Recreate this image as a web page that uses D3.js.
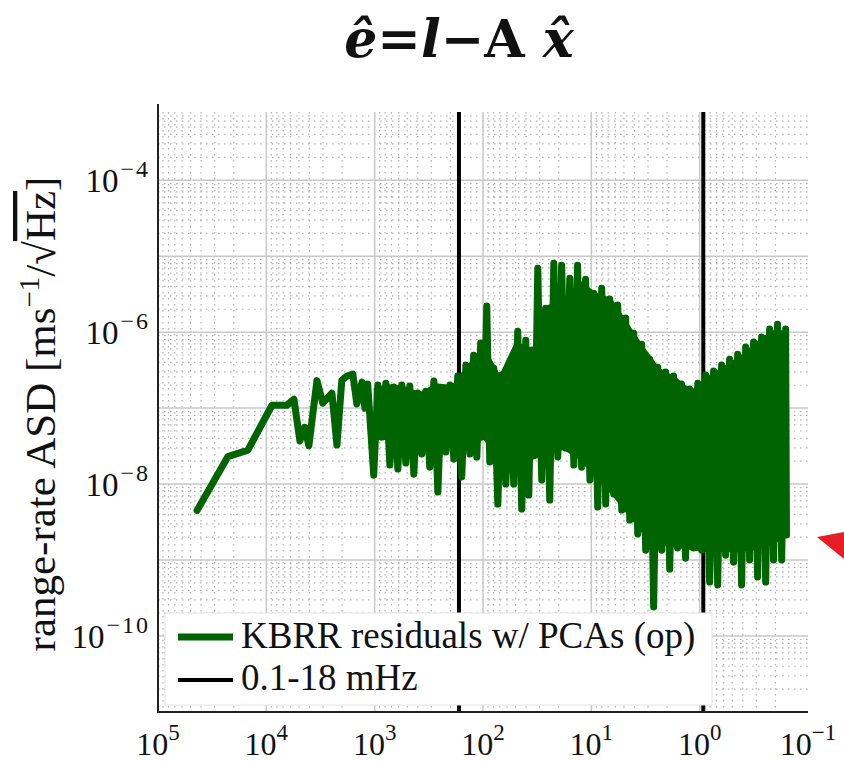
<!DOCTYPE html>
<html>
<head>
<meta charset="utf-8">
<script src="https://cdn.jsdelivr.net/npm/d3@7"></script>
<style>
  body { margin: 0; background: #fff; }
  text { font-family: "Liberation Serif", "DejaVu Serif", serif; fill: #111; }
</style>
</head>
<body>
<svg id="chart" width="844" height="761"></svg>
<script>
// period in minutes (x) and range-rate ASD (y)
var periodMin = [43600, 22600, 14800, 8870, 6460, 5560, 4900, 4410, 4050, 3410, 3010, 2480, 2230, 2010, 1800, 1590, 1460, 1310, 1230, 1160,
  1020, 934, 858, 788, 724, 665, 611, 561, 516, 474, 435, 400, 367, 337, 310, 284, 261, 240, 220, 202, 186, 171, 157, 144, 132, 122, 114, 105,
  98.3, 92.3, 86.6, 79.5, 73.0, 67.1, 61.6, 56.6, 52.0, 47.8, 43.9, 40.3, 37.8, 35.5, 33.3, 31.2, 28.7, 26.4, 24.2, 22.2, 20.4, 18.8, 17.2,
  15.8, 14.5, 13.4, 12.3, 11.3, 10.3, 9.50, 8.73, 8.02, 7.37, 6.77, 6.21, 5.71, 5.24, 4.82, 4.42, 4.06, 3.73, 3.43, 3.15, 2.89, 2.66, 2.44,
  2.24, 2.06, 1.89, 1.74, 1.60, 1.47, 1.35, 1.24, 1.14, 1.04, 0.958, 0.880, 0.809, 0.743, 0.682, 0.627, 0.576, 0.529, 0.486, 0.446, 0.410,
  0.376, 0.346, 0.318, 0.292, 0.268, 0.246, 0.226, 0.208, 0.191, 0.175, 0.161, 0.158]
var asd = [4.5e-9, 2.3e-8, 2.8e-8, 1.09e-7, 1.09e-7, 1.31e-7, 3.7e-8, 5.6e-8, 3.2e-8, 2.3e-7, 1.16e-7, 1.57e-7, 3.26e-8, 2.33e-7, 2.64e-7, 2.80e-7, 1.13e-7, 2.20e-7, 1.0e-7, 2.07e-7,
  1.31e-8, 2.01e-7, 4.15e-8, 2.13e-7, 1.78e-8, 1.89e-7, 1.58e-8, 2.01e-7, 1.89e-8, 1.95e-7, 1.35e-8, 1.58e-7, 2.48e-8, 1.67e-7, 1.67e-8, 2.27e-7,
  7.85e-9, 1.83e-7, 2.64e-8, 2.01e-7, 2.13e-8, 2.64e-7, 1.24e-8, 3.68e-7, 2.48e-8, 4.98e-7, 2.27e-8, 7.17e-7,
  4.55e-8, 2.20e-6, 1.95e-8, 3.36e-7, 5.46e-9, 2.72e-7, 1.0e-8, 2.41e-7, 1.0e-8, 1.03e-6, 4.69e-9, 7.85e-7, 7.17e-9, 5.80e-7, 2.41e-8,
  6.95e-6, 1.13e-8, 2.07e-6, 6.16e-9, 8.09e-6, 2.27e-8, 7.61e-6, 2.98e-8, 5.13e-6, 1.78e-8, 7.61e-6, 1.67e-8, 4.98e-6, 1.13e-8, 3.26e-6,
  4.98e-9, 3.79e-6, 5.46e-9, 2.72e-6, 7.39e-9, 2.27e-6, 4.55e-9, 1.53e-6, 3.36e-9, 9.70e-7, 2.20e-9, 6.95e-7, 1.35e-9, 4.41e-7, 2.41e-10,
  3.46e-7, 1.35e-9, 2.98e-7, 7.61e-10, 2.64e-7, 1.44e-9, 2.07e-7, 1.06e-9, 1.78e-7, 1.44e-9, 2.13e-7, 1.35e-9, 2.72e-7, 5.13e-10, 3.07e-7,
  4.69e-10, 3.68e-7, 1.16e-9, 4.41e-7, 9.41e-10, 5.13e-7, 4.69e-10, 6.35e-7, 1.0e-9, 7.39e-7, 5.98e-10, 8.60e-7, 5.13e-10, 1.10e-6, 1.0e-9,
  1.27e-6, 1.0e-9, 1.10e-6, 2.13e-9]

// where the trace oscillates too densely to separate: its solid core (upper / lower edge)
var bandPeriod = [1020, 755, 538, 383, 273, 194, 138, 98.3, 70.0, 49.8, 35.5, 25.3, 18.0, 12.8, 9.11, 6.48, 4.62, 3.29, 2.34, 1.66, 1.19,
  0.844, 0.601, 0.428, 0.304, 0.217, 0.161]
var bandHigh = [1.83e-7, 2.07e-7, 1.95e-7, 1.62e-7, 2.13e-7, 2.01e-7, 3.79e-7, 6.75e-7, 2.80e-7, 7.85e-7, 5.80e-7, 2.27e-6, 2.64e-6, 4.83e-6,
  3.36e-6, 2.80e-6, 1.35e-6, 6.54e-7, 3.36e-7, 2.56e-7, 1.73e-7, 2.64e-7, 3.57e-7, 4.83e-7, 7.39e-7, 1.06e-6, 1.06e-6]
var bandLow = [3.79e-8, 3.79e-8, 3.57e-8, 3.79e-8, 3.79e-8, 3.26e-8, 3.26e-8, 3.79e-8, 1.95e-8, 1.62e-8, 2.07e-8, 2.41e-8, 2.80e-8, 2.07e-8,
  1.20e-8, 7.17e-9, 3.91e-9, 2.13e-9, 1.58e-9, 1.44e-9, 1.35e-9, 1.27e-9, 1.27e-9, 1.27e-9, 1.35e-9, 1.58e-9, 1.95e-9]

var bandMHz = [0.1, 18]
var xTickExp = [5, 4, 3, 2, 1, 0, -1]
var yTickExp = [-4, -6, -8, -10]
var legendLabels = ["KBRR residuals w/ PCAs (op)", "0.1-18 mHz"]

var mLeft = 158, mRight = 808, mTop = 112, mBottom = 712
var green = "#006400"

var svg = d3.select("#chart")

var x = d3.scaleLog().domain([1e5, 1e-1]).range([mLeft, mRight])
var y = d3.scaleLog().domain([1e-11, 7.9e-4]).range([mBottom, mTop])

// grid
var xMinor = [], yMinor = []
for (var e = -1; e < 5; e++) for (var k = 2; k < 10; k++) xMinor.push(k * Math.pow(10, e))
for (var e = -11; e < -3; e++) for (var k = 2; k < 10; k++) if (k * Math.pow(10, e) < 7.9e-4) yMinor.push(k * Math.pow(10, e))

var grid = svg.append("g")
grid.selectAll(".xminor").data(xMinor).enter().append("line")
    .attr("x1", d => x(d)).attr("x2", d => x(d))
    .attr("y1", mTop).attr("y2", mBottom)
    .attr("stroke", "#b0b0b0").attr("stroke-width", 1.2)
    .attr("stroke-dasharray", "1.5,4.5")
grid.selectAll(".yminor").data(yMinor).enter().append("line")
    .attr("x1", mLeft).attr("x2", mRight)
    .attr("y1", d => y(d)).attr("y2", d => y(d))
    .attr("stroke", "#b0b0b0").attr("stroke-width", 1.2)
    .attr("stroke-dasharray", "1.5,4.5")
grid.selectAll(".xmajor").data(xTickExp.slice(1, -1)).enter().append("line")
    .attr("x1", d => x(Math.pow(10, d))).attr("x2", d => x(Math.pow(10, d)))
    .attr("y1", mTop).attr("y2", mBottom)
    .attr("stroke", "#c8c8c8").attr("stroke-width", 1.5)
grid.selectAll(".ymajor").data([-4, -5, -6, -7, -8, -9, -10]).enter().append("line")
    .attr("x1", mLeft).attr("x2", mRight)
    .attr("y1", d => y(Math.pow(10, d))).attr("y2", d => y(Math.pow(10, d)))
    .attr("stroke", "#c8c8c8").attr("stroke-width", 1.5)

// band limits 0.1-18 mHz, as periods in minutes
svg.selectAll(".band").data(bandMHz).enter().append("line")
    .attr("x1", d => x(1000 / d / 60)).attr("x2", d => x(1000 / d / 60))
    .attr("y1", mTop).attr("y2", mBottom)
    .attr("stroke", "#000").attr("stroke-width", 4)

// spectrum: solid core + trace
var core = bandPeriod.map((p, i) => [p, bandLow[i], bandHigh[i]])
svg.append("path").datum(core)
    .attr("d", d3.area().x(d => x(d[0])).y0(d => y(d[1])).y1(d => y(d[2])))
    .attr("fill", green)

var pts = periodMin.map((p, i) => [p, asd[i]])
var line = d3.line().x(d => x(d[0])).y(d => y(d[1]))
svg.append("path").datum(pts)
    .attr("d", line)
    .attr("fill", "none")
    .attr("stroke", green)
    .attr("stroke-width", 7)
    .attr("stroke-linejoin", "round")
    .attr("stroke-linecap", "round")

// axes lines
svg.append("line").attr("x1", mLeft).attr("x2", mLeft).attr("y1", 104).attr("y2", mBottom + 1)
    .attr("stroke", "#222").attr("stroke-width", 2)
svg.append("line").attr("x1", mLeft).attr("x2", mRight).attr("y1", mBottom).attr("y2", mBottom)
    .attr("stroke", "#222").attr("stroke-width", 2)

// tick labels
var xl = svg.selectAll(".xl").data(xTickExp).enter().append("text")
    .attr("x", d => x(Math.pow(10, d)))
    .attr("y", 755)
    .attr("text-anchor", "middle")
    .style("font-size", "32px")
xl.append("tspan").text("10")
xl.append("tspan").attr("dy", -15).style("font-size", "23px").text(d => d < 0 ? "\u2212" + (-d) : d)

var yl = svg.selectAll(".yl").data(yTickExp).enter().append("text")
    .attr("x", 150)
    .attr("y", d => y(Math.pow(10, d)) + 12)
    .attr("text-anchor", "end")
    .style("font-size", "33px")
yl.append("tspan").text("10")
yl.append("tspan").attr("dx", 2).attr("dy", -15).style("font-size", "24px")
    .style("letter-spacing", "2px").text(d => "\u2212" + (-d))

// y label
var ylab = svg.append("text")
    .attr("transform", "translate(55,414) rotate(-90)")
    .attr("text-anchor", "middle")
    .style("font-size", "43px")
ylab.append("tspan").text("range-rate ASD [ms")
ylab.append("tspan").attr("dy", -16).style("font-size", "29px").text("\u22121")
ylab.append("tspan").attr("dy", 16).text("/\u221A")
ylab.append("tspan").style("text-decoration", "overline").text("Hz")
ylab.append("tspan").text("]")

// legend
var lg = svg.append("g")
lg.append("rect").attr("x", 165).attr("y", 613).attr("width", 547).attr("height", 92)
    .attr("fill", "#fff").attr("stroke", "#e2e2e2").attr("stroke-width", 1)
lg.selectAll("line").data(legendLabels).enter().append("line")
    .attr("x1", 178).attr("x2", 233)
    .attr("y1", (d, i) => 637 + i * 43).attr("y2", (d, i) => 637 + i * 43)
    .attr("stroke", (d, i) => i == 0 ? green : "#000")
    .attr("stroke-width", (d, i) => i == 0 ? 7 : 4)
lg.selectAll("text").data(legendLabels).enter().append("text")
    .attr("x", 241)
    .attr("y", (d, i) => 648 + i * 42)
    .style("font-size", "37px")
    .text(d => d)

// title
var title = svg.append("text")
    .attr("x", 459).attr("y", 57)
    .attr("text-anchor", "middle")
    .style("font-family", "'DejaVu Serif', serif")
    .style("font-weight", "bold")
    .style("font-size", "52px")
title.append("tspan").style("font-style", "italic").text("\u00EA=l\u2212")
title.append("tspan").text("A ")
title.append("tspan").style("font-style", "italic").text("x\u0302")

// red arrow tip at the right edge
svg.append("polygon")
    .attr("points", "817,537 844,532 844,559")
    .attr("fill", "#e81c24")
</script>
</body>
</html>
